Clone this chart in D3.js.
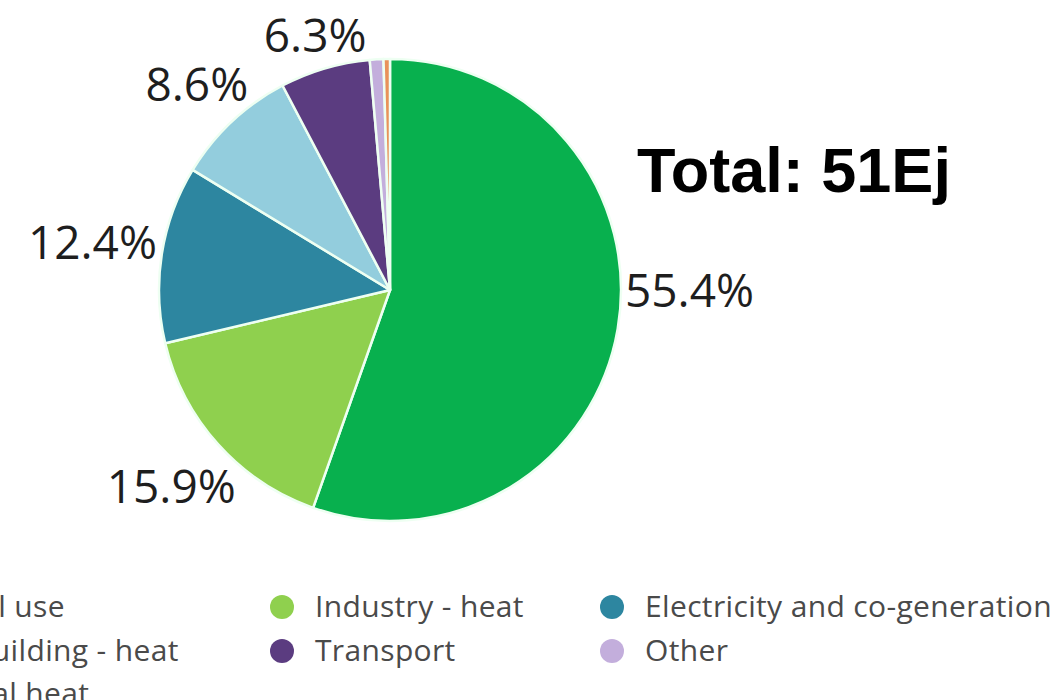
<!DOCTYPE html>
<html>
<head>
<meta charset="utf-8">
<script src="https://cdn.jsdelivr.net/npm/d3@7"></script>
<style>
  html, body { margin: 0; padding: 0; background: #fff; }
  svg { display: block; }
</style>
</head>
<body>
<div id="chart"></div>
<script>
// bioenergy use by sector, share of total (%)
var categories = ["Traditional use", "Industry - heat", "Electricity and co-generation",
                  "Modern building - heat", "Transport", "Other", "Agricultural heat"];
var shares = [55.4, 15.9, 12.4, 8.6, 6.3, 0.95, 0.45];
var colors = ["#08b04e", "#8fd04e", "#2d86a0", "#93cddd", "#5b3c80", "#c3aedc", "#e9925a"];
var totalLabel = "Total: 51Ej";

var width = 1058, height = 700;
var cx = 390, cy = 290, radius = 231;

var svg = d3.select("#chart").append("svg")
    .attr("width", width)
    .attr("height", height);

var data = categories.map(function(c, i) {
    return {name: c, value: shares[i], color: colors[i]};
});

var pie = d3.pie()
    .sort(null)
    .value(d => d.value);

var arc = d3.arc()
    .innerRadius(0)
    .outerRadius(radius);

var arcs = pie(data);

var g = svg.append("g")
    .attr("transform", "translate(" + cx + "," + cy + ")");

g.selectAll("path")
    .data(arcs)
    .join("path")
    .attr("d", arc)
    .attr("fill", d => d.data.color)
    .attr("stroke", "#eefff2")
    .attr("stroke-width", 2.5)
    .attr("stroke-linejoin", "round");

// outside-end labels, pushed out so the text box clears the rim
var fs = 46;
var labels = g.selectAll("text.lbl")
    .data(arcs.filter(d => d.data.value >= 5))
    .join("text")
    .attr("class", "lbl")
    .attr("text-anchor", "middle")
    .style("font-family", "'Open Sans', sans-serif")
    .style("font-size", fs + "px")
    .style("fill", "#1e1e1e")
    .text(d => d.data.value.toFixed(1) + "%");

labels.each(function(d) {
    var a = (d.startAngle + d.endAngle) / 2;
    // a slice over half the pie gets its label at 3 o'clock
    if (d.endAngle - d.startAngle > Math.PI && d.startAngle <= Math.PI / 2 && d.endAngle >= Math.PI / 2) {
        a = Math.PI / 2;
    }
    var sx = Math.sin(a), sy = -Math.cos(a);
    var hw = this.getComputedTextLength() / 2;
    var hh = fs * 0.36;
    var dist = radius + 4 + Math.abs(hw * sx) + Math.abs(hh * sy);
    d3.select(this)
        .attr("x", sx * dist)
        .attr("y", sy * dist + hh);
});

svg.append("text")
    .attr("x", 637)
    .attr("y", 192)
    .style("font-family", "'Liberation Sans', Arial, sans-serif")
    .style("font-weight", "bold")
    .style("font-size", "63px")
    .style("fill", "#000")
    .text(totalLabel);

// legend, three columns (the first column runs off the left edge)
var colX = [-181, 282, 612];
var rowY = [607, 651, 694];
var legend = svg.append("g");
var items = legend.selectAll("g")
    .data(data)
    .join("g")
    .attr("transform", (d, i) => "translate(" + colX[i % 3] + "," + rowY[Math.floor(i / 3)] + ")");

items.append("circle")
    .attr("r", 12)
    .attr("fill", d => d.color);

items.append("text")
    .attr("x", 33)
    .attr("y", 10)
    .style("font-family", "'Open Sans', sans-serif")
    .style("font-size", "30px")
    .style("letter-spacing", "0.35px")
    .style("fill", "#4a4a4a")
    .text(d => d.name);
</script>
</body>
</html>
